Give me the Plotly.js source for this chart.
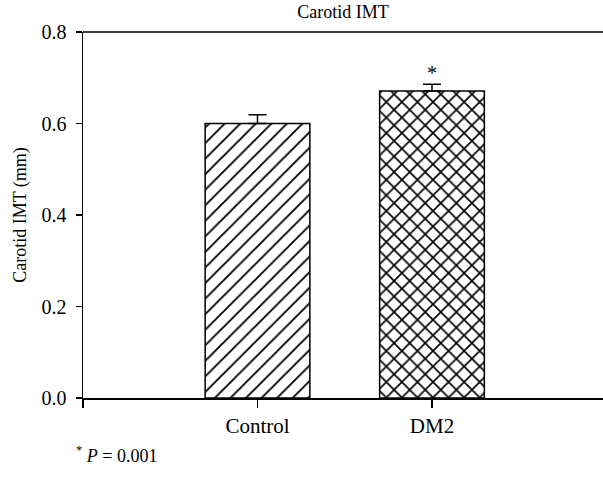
<!DOCTYPE html>
<html>
<head>
<meta charset="utf-8">
<script src="https://cdn.plot.ly/plotly-3.0.1.min.js"></script>
<style>html,body{margin:0;padding:0;background:#fff;}#chart{width:603px;height:487px;}</style>
</head>
<body>
<div id="chart"></div>
<script>
var categories = ['Control', 'DM2'];
var values = [0.600, 0.671];
var errors = [0.019, 0.015];
var patternShapes = ['/', 'x'];
var patternSolidity = [0.17, 0.28];
var yTicks = [0.0, 0.2, 0.4, 0.6, 0.8];
var yTickLabels = ['0.0', '0.2', '0.4', '0.6', '0.8'];
var significance = ['', '*'];

var SERIF = '"Liberation Serif", "Times New Roman", Times, serif';
var xPos = categories.map(function (c, i) { return i + 1; });

var traces = categories.map(function (c, i) {
  return {
    type: 'bar',
    x: [xPos[i]],
    y: [values[i]],
    width: 0.6,
    name: c,
    marker: {
      color: '#ffffff',
      line: {color: '#000000', width: 1.5},
      pattern: {shape: patternShapes[i], size: 11, solidity: patternSolidity[i], fgcolor: '#000000', bgcolor: '#ffffff', fillmode: 'replace'}
    },
    error_y: {type: 'data', array: [errors[i]], symmetric: false, arrayminus: [0], color: '#000000', thickness: 1.5, width: 9},
    showlegend: false,
    hoverinfo: 'skip'
  };
});

var annotations = [];
categories.forEach(function (c, i) {
  if (significance[i]) {
    annotations.push({
      x: xPos[i], y: values[i] + errors[i], xref: 'x', yref: 'y',
      text: significance[i], showarrow: false, yanchor: 'bottom', yshift: -2,
      font: {family: SERIF, size: 20, color: '#000'}
    });
  }
});
annotations.push({
  x: -0.018, y: -0.155, xref: 'paper', yref: 'paper', xanchor: 'left', yanchor: 'middle',
  text: '<sup>*</sup> <i>P</i> = 0.001', showarrow: false,
  font: {family: SERIF, size: 18, color: '#000'}
});

var layout = {
  width: 603, height: 487,
  margin: {l: 83, r: 0, t: 32, b: 89, pad: 0},
  paper_bgcolor: '#ffffff', plot_bgcolor: '#ffffff',
  font: {family: SERIF, size: 18, color: '#000'},
  title: {text: 'Carotid IMT', x: 0.569, xanchor: 'center', y: 0.975, yanchor: 'middle', font: {family: SERIF, size: 18, color: '#000'}},
  xaxis: {
    range: [0, 2.98], tickvals: [0].concat(xPos), ticktext: [''].concat(categories),
    showgrid: false, zeroline: false, showline: true, linecolor: '#000', linewidth: 1.5,
    ticks: 'outside', ticklen: 8, tickwidth: 1.5, tickcolor: '#000',
    ticklabelstandoff: 0,
    tickfont: {family: SERIF, size: 21, color: '#000'},
    mirror: false, fixedrange: true
  },
  yaxis: {
    range: [0, 0.8], tickvals: yTicks, ticktext: yTickLabels,
    showgrid: false, zeroline: false, showline: true, linecolor: '#000', linewidth: 1.5,
    ticks: 'outside', ticklen: 6, tickwidth: 1.5, tickcolor: '#000',
    ticklabelstandoff: 5,
    tickfont: {family: SERIF, size: 20, color: '#000'},
    title: {text: 'Carotid IMT (mm)', standoff: 10, font: {family: SERIF, size: 18, color: '#000'}},
    fixedrange: true
  },
  shapes: [{type: 'line', xref: 'paper', yref: 'paper', x0: 0, x1: 1, y0: 1, y1: 1, line: {color: '#000', width: 1.5}}],
  annotations: annotations,
  bargap: 0
};

Plotly.newPlot('chart', traces, layout, {displayModeBar: false, staticPlot: true});
</script>
</body>
</html>
